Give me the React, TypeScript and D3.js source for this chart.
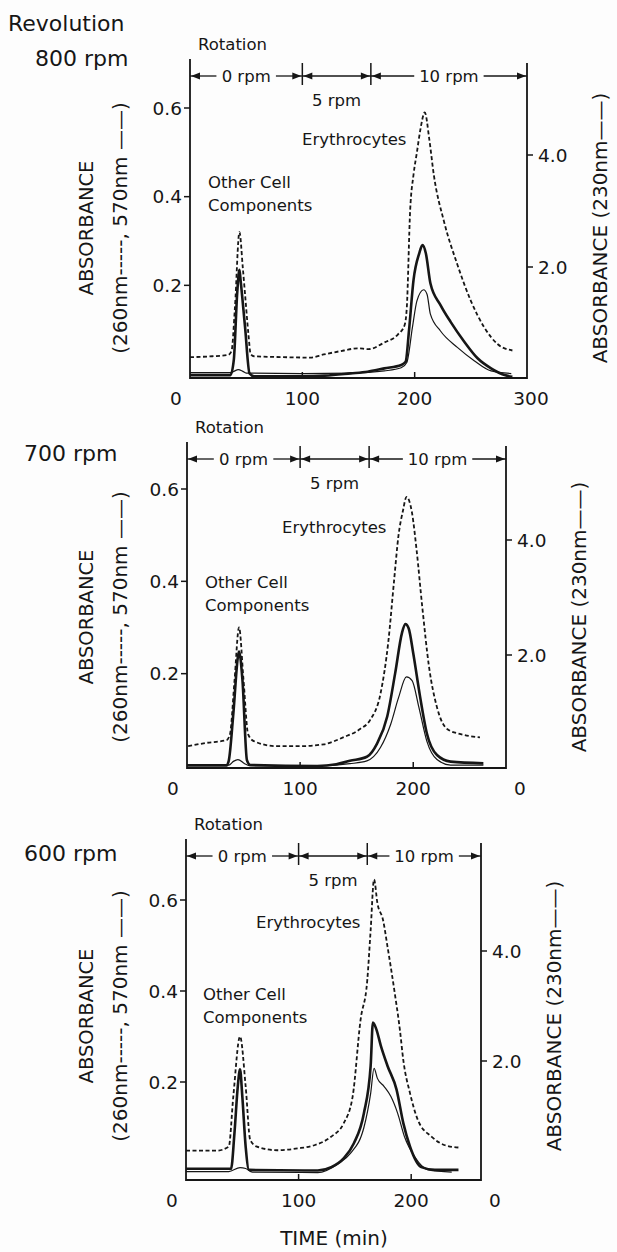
import * as d3 from "d3";
import { useEffect } from "react";

// absorbance traces, [time (min), absorbance]
// dashed = 260nm (left axis), thin = 570nm (left axis), thick = 230nm (right axis)
const dashed800: [number, number][] = [[0,0.038],[20,0.04],[34,0.043],[37,0.052],[40,0.15],[44,0.32],[47,0.24],[49,0.18],[52,0.09],[54,0.045],[57,0.04],[83,0.038],[107,0.037],[119,0.044],[137,0.053],[149,0.058],[159,0.056],[173,0.071],[185,0.089],[191,0.11],[193,0.15],[196,0.37],[199,0.45],[202,0.5],[205,0.55],[209,0.59],[213,0.53],[217,0.45],[226,0.345],[238,0.247],[250,0.165],[262,0.105],[274,0.067],[287,0.053]];
const thick800: [number, number][] = [[0,0.07],[36,0.07],[39,0.34],[42,1.53],[44,1.95],[45,1.77],[49,0.93],[53,0.1],[57,0.05],[100,0.05],[120,0.06],[143,0.1],[158,0.13],[173,0.19],[188,0.25],[192,0.31],[195,0.875],[199,1.77],[204,2.24],[207,2.39],[210,2.24],[214,1.71],[223,1.32],[232,1.02],[244,0.67],[256,0.37],[268,0.19],[280,0.07],[287,0.04]];
const thin800: [number, number][] = [[0,0.003],[36,0.003],[39,0.006],[43,0.01],[47,0.006],[50,0.002],[100,0.001],[143,0.002],[173,0.007],[188,0.014],[193,0.026],[198,0.105],[202,0.165],[208,0.19],[211,0.18],[214,0.135],[223,0.097],[238,0.06],[253,0.03],[268,0.007],[286,0.001]];

const dashed700: [number, number][] = [[1,0.043],[17,0.05],[35,0.056],[38,0.069],[42,0.185],[46,0.3],[50,0.185],[54,0.069],[59,0.054],[79,0.043],[100,0.043],[121,0.047],[138,0.062],[153,0.08],[162,0.1],[171,0.156],[178,0.27],[183,0.4],[187,0.5],[191,0.554],[194,0.583],[199,0.547],[203,0.467],[208,0.344],[214,0.214],[221,0.127],[230,0.08],[242,0.069],[259,0.062]];
const thick700: [number, number][] = [[0,0.08],[35,0.08],[37,0.17],[41,0.99],[45,1.97],[46,2.06],[49,1.57],[53,0.17],[56,0.087],[115,0.07],[132,0.1],[144,0.16],[159,0.23],[168,0.46],[177,0.93],[184,1.68],[190,2.38],[193,2.54],[196,2.46],[200,2.03],[206,1.28],[212,0.64],[221,0.26],[233,0.145],[262,0.116]];
const thin700: [number, number][] = [[0,0.002],[37,0.002],[41,0.01],[45,0.014],[51,0.005],[55,0.001],[120,0.001],[144,0.005],[159,0.011],[171,0.04],[180,0.09],[187,0.148],[194,0.193],[199,0.185],[205,0.127],[212,0.054],[221,0.014],[233,0.002],[262,0.002]];

const dashed600: [number, number][] = [[0,0.049],[27,0.049],[38,0.058],[42,0.168],[48,0.3],[53,0.19],[57,0.073],[63,0.058],[81,0.05],[99,0.054],[114,0.061],[129,0.08],[140,0.109],[148,0.168],[155,0.336],[161,0.424],[164,0.534],[167,0.645],[170,0.593],[175,0.556],[179,0.497],[185,0.402],[190,0.314],[193,0.248],[199,0.175],[206,0.116],[218,0.08],[230,0.061],[242,0.056]];
const thick600: [number, number][] = [[0,0.04],[40,0.04],[43,0.68],[46,1.54],[48,1.85],[50,1.36],[53,0.44],[56,0.02],[117,0.01],[129,0.07],[140,0.23],[149,0.5],[158,1.05],[164,1.91],[166,2.7],[169,2.58],[173,2.28],[179,1.91],[187,1.48],[193,0.87],[199,0.44],[209,0.07],[221,0.02],[242,0.02]];
const thin600: [number, number][] = [[0,0.003],[38,0.003],[48,0.012],[53,0.01],[59,0.002],[117,0.001],[135,0.02],[146,0.043],[158,0.1],[164,0.175],[167,0.23],[170,0.208],[176,0.19],[182,0.168],[188,0.131],[194,0.08],[203,0.036],[215,0.007],[236,0.002]];

const revolutions = ["800 rpm", "700 rpm", "600 rpm"];
const timeMax = [300, 282, 262];
const rotationBounds = [0, 100, 161];
const rotationLabels = ["0 rpm", "5 rpm", "10 rpm"];
const leftTicks = [0.2, 0.4, 0.6];
const rightTicks = [2.0, 4.0];
const xTicks800 = [0, 100, 200, 300];
const xTicks = [0, 100, 200];

const FONT = "'DejaVu Sans', Verdana, sans-serif";
const INK = "#161616";

// pixel layout of each panel
const layouts = [
  { x0: 190, x1: 527, yAxis: 378, y0: 374, y06: 108, r0: 379, r4: 155, bracket: 76,
    ery: [302, 145], other: [208, 188], titleX: 35, titleY: 66, midY: 228 },
  { x0: 187, x1: 506, yAxis: 768, y0: 766, y06: 489, r0: 770, r4: 540, bracket: 459,
    ery: [282, 533], other: [205, 588], titleX: 24, titleY: 461, midY: 617 },
  { x0: 186, x1: 481, yAxis: 1180, y0: 1173, y06: 900, r0: 1171, r4: 951, bracket: 856,
    ery: [256, 928], other: [203, 1000], titleX: 24, titleY: 861, midY: 1016 },
];

const seriesSets = [
  { dashed: dashed800, thick: thick800, thin: thin800, ticks: xTicks800 },
  { dashed: dashed700, thick: thick700, thin: thin700, ticks: xTicks },
  { dashed: dashed600, thick: thick600, thin: thin600, ticks: xTicks },
];

const arrowHead = (x: number, y: number, dir: number) => {
  const L = 9, W = 3.5;
  return `M${x},${y}L${x - dir * L},${y - W}L${x - dir * L},${y + W}Z`;
};

const Panel = ({ i }: { i: number }) => {
  const lay = layouts[i];
  const set = seriesSets[i];
  const x = d3.scaleLinear().domain([0, timeMax[i]]).range([lay.x0, lay.x1]);
  const yL = d3.scaleLinear().domain([0, 0.6]).range([lay.y0, lay.y06]);
  const yR = d3.scaleLinear().domain([0, 4]).range([lay.r0, lay.r4]);
  const lineL = d3.line<[number, number]>().x((d) => x(d[0])).y((d) => yL(d[1])).curve(d3.curveMonotoneX);
  const lineR = d3.line<[number, number]>().x((d) => x(d[0])).y((d) => yR(d[1])).curve(d3.curveMonotoneX);

  const by = lay.bracket;
  const bounds = [...rotationBounds, timeMax[i]];

  return (
    <g>
      {i === 0 && (
        <text x={8} y={31} fontSize={22} fill={INK}>Revolution</text>
      )}
      <text x={lay.titleX} y={lay.titleY} fontSize={22} fill={INK}>{revolutions[i]}</text>
      <text x={lay.x0 + 8} y={by - 26} fontSize={16.5} fill={INK}>Rotation</text>

      {/* rotation bracket */}
      {rotationLabels.map((lab, k) => {
        const a = x(bounds[k]);
        const b = x(bounds[k + 1]);
        const inside = k !== 1;
        const tw = lab.length * 0.6 * 16.5;
        const c = (a + b) / 2;
        return (
          <g key={lab}>
            {inside ? (
              <>
                <line x1={a} x2={c - tw / 2 - 5} y1={by} y2={by} stroke={INK} strokeWidth={1.3} />
                <line x1={c + tw / 2 + 5} x2={b} y1={by} y2={by} stroke={INK} strokeWidth={1.3} />
                <text x={c} y={by + 6} fontSize={16.5} textAnchor="middle" fill={INK}>{lab}</text>
              </>
            ) : (
              <>
                <line x1={a} x2={b} y1={by} y2={by} stroke={INK} strokeWidth={1.3} />
                <text x={c} y={by + 30} fontSize={16.5} textAnchor="middle" fill={INK}>{lab}</text>
              </>
            )}
            <path d={arrowHead(a + 1, by, -1)} fill={INK} />
            <path d={arrowHead(b - 1, by, 1)} fill={INK} />
            {k > 0 && <line x1={a} x2={a} y1={by - 13} y2={by + 9} stroke={INK} strokeWidth={1.5} />}
          </g>
        );
      })}

      {/* frame */}
      <path
        d={`M${lay.x0},${by - 17}V${lay.yAxis}H${lay.x1}V${by - 13}`}
        fill="none" stroke={INK} strokeWidth={1.8}
      />

      {/* left ticks */}
      {leftTicks.map((t) => (
        <g key={t}>
          <line x1={lay.x0 - 6} x2={lay.x0} y1={yL(t)} y2={yL(t)} stroke={INK} strokeWidth={1.5} />
          <text x={lay.x0 - 8} y={yL(t)} dy="0.36em" fontSize={18.5} textAnchor="end" fill={INK}>{t.toFixed(1)}</text>
        </g>
      ))}
      {/* right ticks */}
      {rightTicks.map((t) => (
        <g key={t}>
          <line x1={lay.x1} x2={lay.x1 + 6} y1={yR(t)} y2={yR(t)} stroke={INK} strokeWidth={1.5} />
          <text x={lay.x1 + 11} y={yR(t)} dy="0.36em" fontSize={18.5} fill={INK}>{t.toFixed(1)}</text>
        </g>
      ))}
      {/* bottom ticks */}
      {set.ticks.map((t) => (
        <g key={t}>
          {t > 0 && t < timeMax[i] && (
            <line x1={x(t)} x2={x(t)} y1={lay.yAxis - 6} y2={lay.yAxis} stroke={INK} strokeWidth={1.5} />
          )}
          <text x={t === 0 ? lay.x0 - 14 : x(t) + (t === 300 ? 4 : 0)} y={lay.yAxis + 27} fontSize={18.5} textAnchor="middle" fill={INK}>{t}</text>
        </g>
      ))}
      {i > 0 && (
        <text x={lay.x1 + 14} y={lay.yAxis + 27} fontSize={18.5} textAnchor="middle" fill={INK}>0</text>
      )}

      {/* axis titles */}
      <text transform={`translate(86,${lay.midY}) rotate(-90)`} dy="0.36em" fontSize={19.5} textAnchor="middle" fill={INK}>ABSORBANCE</text>
      <text transform={`translate(120,${lay.midY}) rotate(-90)`} dy="0.36em" fontSize={20} textAnchor="middle" fill={INK}>(260nm-----, 570nm ——)</text>
      <text transform={`translate(${lay.x1 + 73},${lay.midY}) rotate(-90)`} dy="0.36em" fontSize={20} textAnchor="middle" fill={INK}>ABSORBANCE (230nm——)</text>

      {/* annotations */}
      <text x={lay.ery[0]} y={lay.ery[1]} fontSize={16.5} fill={INK}>Erythrocytes</text>
      <text x={lay.other[0]} y={lay.other[1]} fontSize={16.5} fill={INK}>Other Cell</text>
      <text x={lay.other[0]} y={lay.other[1] + 23} fontSize={16.5} fill={INK}>Components</text>

      {/* traces */}
      <path d={lineL(set.dashed) || ""} fill="none" stroke={INK} strokeWidth={1.8} strokeDasharray="4,2.5" />
      <path d={lineL(set.thin) || ""} fill="none" stroke={INK} strokeWidth={1.2} />
      <path d={lineR(set.thick) || ""} fill="none" stroke={INK} strokeWidth={2.6} />
    </g>
  );
};

const App = () => {
  useEffect(() => {
    document.body.style.margin = "0";
  }, []);
  return (
    <svg width={617} height={1252} style={{ display: "block", background: "#fdfdfd" }} fontFamily={FONT}>
      {layouts.map((_, i) => (
        <Panel key={i} i={i} />
      ))}
      <text x={334} y={1245} fontSize={20} textAnchor="middle" fill={INK}>TIME (min)</text>
    </svg>
  );
};

export default App;
